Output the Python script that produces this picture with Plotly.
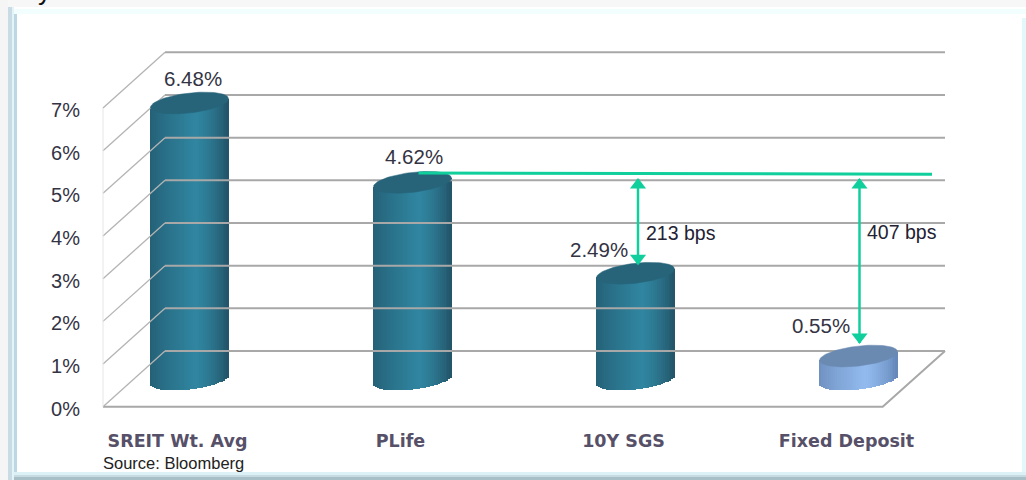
import numpy as np
import plotly.graph_objects as go

# ---- data ----
categories = ["SREIT Wt. Avg", "PLife", "10Y SGS", "Fixed Deposit"]
yields_pct = [6.48, 4.62, 2.49, 0.55]
labels = ["6.48%", "4.62%", "2.49%", "0.55%"]
tick_values = [0, 1, 2, 3, 4, 5, 6, 7]
tick_labels = ["0%", "1%", "2%", "3%", "4%", "5%", "6%", "7%"]
spreads = ["213 bps", "407 bps"]
spread_from = 1
spread_to = [2, 3]
source_text = "Source: Bloomberg"

# ---- fake-3D geometry, in pixels of the 1026x480 page ----
W, H = 1026, 480
PX_X0, PX_DX = 189.5, 223.0      # pixel of category 0, pixels per category
PX_Y0, PX_DY = 406.7, 42.67      # pixel of 0%, pixels per 1%
sx, sy = 1 / PX_DX, 1 / PX_DY
X = lambda px: (px - PX_X0) * sx
Y = lambda px: (PX_Y0 - px) * sy

DEPTH_X, DEPTH_Y = 62 * sx, 55.7 * sy      # wall offset
MID_Y = 27.2 * sy                          # bars stand mid-depth
WALL_L, FLOOR_R, BACK_R = X(103), X(882.7), X(945)
A, B, SLOPE = 39 * sx, 10 * sy, 0.11 * sy / sx   # cylinder ellipse
N = 40


def mix(c1, c2, t):
    return "rgb(%d,%d,%d)" % tuple(round(a + (b - a) * t) for a, b in zip(c1, c2))


def side_colour(u, edgeL, mid, edgeR):
    t = (u + 1) / 2
    if t < 0.58:
        return mix(edgeL, mid, (t / 0.58) ** 0.8)
    return mix(mid, edgeR, ((t - 0.58) / 0.42) ** 1.4)


fig = go.Figure()

# walls and floor
GRID = "#a8a8a8"
for t in tick_values:
    fig.add_trace(go.Scatter(
        x=[WALL_L, WALL_L + DEPTH_X], y=[t, t + DEPTH_Y], mode="lines",
        line=dict(color="#b4b4b4", width=1.3), hoverinfo="skip", showlegend=False))
    fig.add_trace(go.Scatter(
        x=[WALL_L + DEPTH_X, BACK_R], y=[t + DEPTH_Y, t + DEPTH_Y], mode="lines",
        line=dict(color=GRID, width=2), hoverinfo="skip", showlegend=False))
fig.add_trace(go.Scatter(
    x=[WALL_L, FLOOR_R, BACK_R], y=[0, 0, DEPTH_Y], mode="lines",
    line=dict(color=GRID, width=2), hoverinfo="skip", showlegend=False))
fig.add_trace(go.Scatter(
    x=[WALL_L, WALL_L], y=[tick_values[0], tick_values[-1]], mode="lines",
    line=dict(color="#e6e6e6", width=1), hoverinfo="skip", showlegend=False))

# cylinders: side as narrow shaded bars, top as a filled ellipse
for i, v in enumerate(yields_pct):
    if i < 3:
        edgeL, mid, edgeR, top = (36, 96, 118), (48, 133, 160), (34, 84, 104), "#27647a"
    else:
        edgeL, mid, edgeR, top = (110, 144, 192), (146, 186, 238), (100, 135, 184), "#6b8ab2"
    us = (np.arange(N) + 0.5) / N * 2 - 1
    offs = us * A
    curve = SLOPE * offs - B * np.sqrt(1 - us ** 2)
    base = MID_Y + curve
    tip = MID_Y + v + SLOPE * offs
    fig.add_trace(go.Bar(
        x=i + offs, y=tip - base, base=base, width=2 * A / N * 1.15,
        marker=dict(color=[side_colour(u, edgeL, mid, edgeR) for u in us], line_width=0),
        hoverinfo="skip", showlegend=False))
    th = np.linspace(0, 2 * np.pi, 90)
    fig.add_trace(go.Scatter(
        x=i + A * np.cos(th),
        y=MID_Y + v + SLOPE * A * np.cos(th) + B * np.sin(th),
        mode="lines", fill="toself", fillcolor=top, line=dict(color=top, width=0.5),
        hoverinfo="skip", showlegend=False))

# spread lines
GREEN = "#10cf9c"
top_v = yields_pct[spread_from] + MID_Y
line_y = top_v + 9.4 * sy
fig.add_trace(go.Scatter(
    x=[spread_from + 6 * sx, X(932)], y=[line_y, line_y - 1.2 * sy], mode="lines",
    line=dict(color=GREEN, width=3), hoverinfo="skip", showlegend=False))
clearance = [9, 13]
ends = [yields_pct[j] + MID_Y + c * sy for j, c in zip(spread_to, clearance)]
for j, end in zip(spread_to, ends):
    xa = j + 2.5 * sx if j == 2 else j + 1 * sx
    ya, yb = line_y - 6 * sy, end
    fig.add_trace(go.Scatter(
        x=[xa, xa], y=[ya, yb], mode="lines", line=dict(color=GREEN, width=2.5),
        hoverinfo="skip", showlegend=False))
    fig.add_trace(go.Scatter(
        x=[xa, xa], y=[ya - 6 * sy, yb + 6 * sy], mode="markers",
        marker=dict(symbol=["triangle-up", "triangle-down"], size=14, color=GREEN, line_width=0),
        hoverinfo="skip", showlegend=False))

# value labels
FONT = "Liberation Sans, Arial, sans-serif"
lab_x = [192.5, 414, 598.5, 820.5]
lab_y = [78, 156, 249, 325]
for s, px, py in zip(labels, lab_x, lab_y):
    fig.add_annotation(x=X(px), y=Y(py), text=s, showarrow=False,
                       font=dict(family=FONT, size=20.5, color="#333344"))
for s, px, py in zip(spreads, [681, 902], [233, 232]):
    fig.add_annotation(x=X(px), y=Y(py), text=s, showarrow=False,
                       font=dict(family=FONT, size=19.5, color="#222233"))
fig.add_annotation(x=X(101), y=Y(463), text=source_text, showarrow=False, xanchor="left",
                   font=dict(family=FONT, size=16.5, color="#222222"))
# clipped title fragment at the top edge
fig.add_annotation(xref="x", yref="paper", x=X(44), y=1, yanchor="top", yshift=26, text="y",
                   showarrow=False, font=dict(family=FONT, size=26, color="#111111"))


def rect(x0, y0, x1, y1, c):
    return dict(type="rect", xref="paper", yref="paper", x0=x0 / W, x1=x1 / W,
                y0=1 - y1 / H, y1=1 - y0 / H, fillcolor=c, line_width=0, layer="below")


shapes = [
    rect(0, 0, W, 7, "#f7f7f7"),
    rect(0, 0, 8, H, "#f5f5f5"),
    rect(8, 7, 12, H, "#c9dbe4"),
    rect(12, 7, 14, H, "#e4f3f8"),
    rect(14, 12, 17, H, "#bdd7e3"),
    rect(14, 9, W, 14, "#f2fdfe"),
    rect(1022, 18, W, H, "#e2f8fb"),
    rect(14, 472, W, 475, "#dcf1f6"),
    rect(14, 475, W, 477, "#c6dbe2"),
    rect(14, 477, W, H, "#a9bfc8"),
]

fig.update_layout(
    width=W, height=H, margin=dict(l=0, r=0, t=0, b=0),
    paper_bgcolor="white", plot_bgcolor="rgba(0,0,0,0)",
    barmode="overlay", bargap=0, showlegend=False, shapes=shapes,
    xaxis=dict(range=[X(0), X(W)], anchor="free", position=(H - PX_Y0) / H,
               tickmode="array", tickvals=[i - 12 * sx for i in range(4)], ticktext=categories,
               ticks="outside", ticklen=18, tickcolor="rgba(0,0,0,0)",
               showgrid=False, zeroline=False, showline=False, fixedrange=True,
               tickfont=dict(family="DejaVu Sans, sans-serif", size=17.5, color="#565068", weight="bold")),
    yaxis=dict(range=[Y(H), Y(0)], anchor="free", position=103 / W,
               tickmode="array", tickvals=tick_values, ticktext=tick_labels,
               ticks="outside", ticklen=19, tickcolor="rgba(0,0,0,0)",
               ticklabelshift=2,
               showgrid=False, zeroline=False, showline=False, fixedrange=True,
               tickfont=dict(family=FONT, size=20, color="#333344")),
)

fig.write_html("out.html", config={"displayModeBar": False},
               post_script="document.body.style.margin='0';document.body.style.overflow='hidden';")
